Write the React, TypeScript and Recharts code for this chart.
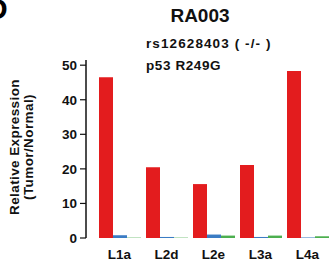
import { Bar, BarChart, XAxis, YAxis } from "recharts"

const lines = ["L1a", "L2d", "L2e", "L3a", "L4a"]
const redValues = [46.5, 20.5, 15.6, 21.1, 48.3]
const blueValues = [0.8, 0.3, 1.0, 0.3, 0.15]
const greenValues = [0.1, 0.1, 0.7, 0.7, 0.5]
const yTicks = [0, 10, 20, 30, 40, 50]

const data = lines.map((line, i) => ({
    line,
    red: redValues[i],
    blue: blueValues[i],
    green: greenValues[i],
}))

const font = "'Liberation Sans', Arial, Helvetica, sans-serif"

function YLabel(props: any) {
    const cy = 147
    return (
        <text
            transform={`rotate(-90, 23, ${cy})`}
            x={23}
            y={cy}
            textAnchor="middle"
            fontFamily={font}
            fontWeight="bold"
            fontSize={13.5}
            letterSpacing={0.4}
            fill="#111"
        >
            <tspan x={23} dy={-4}>Relative Expression</tspan>
            <tspan x={23} dy={14}>(Tumor/Normal)</tspan>
        </text>
    )
}

function App() {
    return (
        <div style={{ position: 'absolute', left: 0, top: 0, width: 331, height: 264, overflow: 'hidden', background: '#fff', fontFamily: font }}>
            <div style={{ position: 'absolute', left: -14, top: -8, fontSize: 30, fontWeight: 'bold', color: '#000' }}>D</div>
            <div style={{ position: 'absolute', left: 0, width: 400, top: 5, textAlign: 'center', fontSize: 19, fontWeight: 'bold', color: '#111' }}>RA003</div>
            <div style={{ position: 'absolute', left: 146, top: 36, fontSize: 13.5, letterSpacing: 1.1, fontWeight: 'bold', color: '#111', whiteSpace: 'pre' }}>rs12628403 ( -/- )</div>
            <div style={{ position: 'absolute', left: 146, top: 58, fontSize: 13.5, letterSpacing: 0.6, fontWeight: 'bold', color: '#111', whiteSpace: 'pre' }}>p53 R249G</div>
            <BarChart
                width={331}
                height={264}
                data={data}
                barSize={14}
                barGap={0}
                margin={{ top: 60, right: 0, left: 30, bottom: 0 }}
                style={{ position: 'absolute', left: 0, top: 0 }}
            >
                <XAxis
                    dataKey="line"
                    axisLine={false}
                    tickLine={false}
                    padding={{ left: 10, right: 0 }}
                    height={26}
                    tickMargin={5}
                    tick={{ fontFamily: font, fontWeight: 'bold', fontSize: 13.5, fill: '#111' }}
                />
                <YAxis
                    domain={[0, 51.5]}
                    ticks={yTicks}
                    width={56}
                    tickSize={6}
                    tickMargin={3}
                    axisLine={{ stroke: '#111', strokeWidth: 1.5 }}
                    tickLine={{ stroke: '#111', strokeWidth: 1.2 }}
                    tick={{ fontFamily: font, fontWeight: 'bold', fontSize: 13.5, fill: '#111' }}
                    label={{ content: <YLabel /> }}
                />
                <Bar dataKey="red" fill="#e31c1e" isAnimationActive={false} />
                <Bar dataKey="blue" fill="#3b7cc4" isAnimationActive={false} />
                <Bar dataKey="green" fill="#4caf4f" isAnimationActive={false} />
            </BarChart>
        </div>
    )
}

export default App
